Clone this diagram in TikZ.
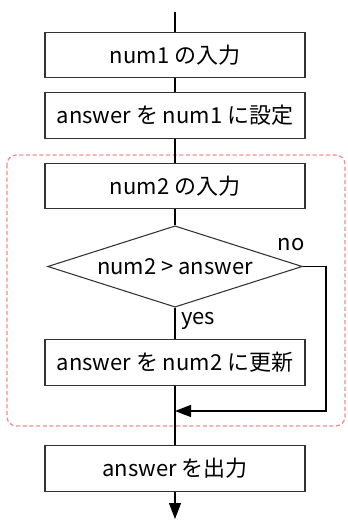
\documentclass[tikz,border=0pt]{standalone}
\usepackage{fontspec}
\setmainfont{Noto Sans CJK JP}
\usetikzlibrary{shapes.geometric,arrows.meta}
\definecolor{boxline}{HTML}{333333}
\definecolor{loopred}{HTML}{F58A8A}
\begin{document}
\begin{tikzpicture}[x=0.75pt,y=-0.75pt,
  txt/.style={font=\fontsize{16.5pt}{18pt}\selectfont},
  procbox/.style={txt,draw=boxline,line width=0.8pt,rectangle,minimum width=195pt,minimum height=34pt,inner sep=0pt},
  decbox/.style={txt,draw=boxline,line width=0.8pt,diamond,aspect=3.15,minimum width=191pt,minimum height=61pt,inner sep=0pt},
  flow/.style={draw=black,line width=0.9pt},
  tip/.style={-{Triangle[length=12pt,width=9pt]}},
  lbl/.style={txt,inner sep=0pt},
  loopframe/.style={draw=loopred,line width=0.9pt,dash pattern=on 3pt off 2pt,rounded corners=7pt}]
\useasboundingbox (0,0) rectangle (347,520);
\draw[loopframe] (7,155) rectangle (345,426);
\node[procbox] (b1) at (175,55) {num1 の入力};
\node[procbox] (b2) at (175,115.5) {answer を num1 に設定};
\node[procbox] (b3) at (175,186) {num2 の入力};
\node[decbox] (d) at (175,266.5) {num2 > answer};
\node[procbox] (b4) at (175,362.5) {answer を num2 に更新};
\node[procbox] (b5) at (175,468.5) {answer を出力};
\coordinate (top) at (175,12);
\coordinate (bot) at (175,519);
\coordinate (m) at (175,411);
\coordinate (r1) at (326,266.5);
\coordinate (r2) at (326,411);
\draw[flow] (top) -- (b1.north);
\draw[flow] (b1.south) -- (b2.north);
\draw[flow] (b2.south) -- (b3.north);
\draw[flow] (b3.south) -- (d.north);
\draw[flow] (d.south) -- (b4.north);
\draw[flow] (b4.south) -- (b5.north);
\draw[flow,tip] (b5.south) -- (bot);
\draw[flow,tip] (d.east) -- (r1) -- (r2) -- (m);
\node[lbl] (no) at (291,245) {no};
\node[lbl] (yes) at (198,321) {yes};
\end{tikzpicture}
\end{document}
